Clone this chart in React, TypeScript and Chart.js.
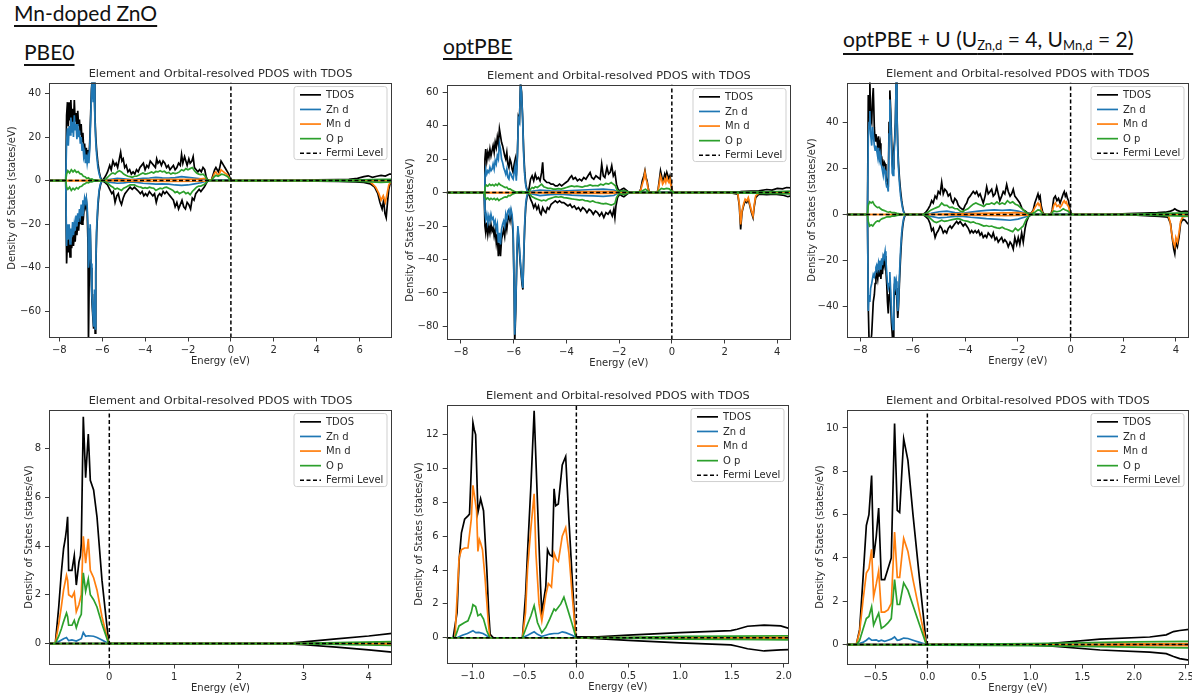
import React, { useEffect, useRef } from "react";
import { Chart, registerables } from "chart.js";

Chart.register(...registerables);

type Pair = [number, number];

const SERIES_LABELS = ["TDOS", "Zn d", "Mn d", "O p"];
const SERIES_COLORS = ["#000000", "#1f77b4", "#ff7f0e", "#2ca02c"];
const FERMI_LABEL = "Fermi Level";
const PLOT_TITLE = "Element and Orbital-resolved PDOS with TDOS";
const X_LABEL = "Energy (eV)";
const Y_LABEL = "Density of States (states/eV)";

// ---------------- PBE0, full range ----------------
const pbe0TdosUp: Pair[] = [[-8.48,0],[-7.70,0],[-7.66,30],[-7.62,36],[-7.58,25],[-7.54,36],[-7.50,28],[-7.46,37],[-7.42,26],[-7.38,33],[-7.34,24],[-7.30,37],[-7.26,27],[-7.22,31],[-7.18,23],[-7.14,32],[-7.10,25],[-7.06,28],[-7.02,21],[-6.98,26],[-6.94,18],[-6.90,22],[-6.86,14],[-6.82,17],[-6.78,11],[-6.74,15],[-6.70,10],[-6.66,14],[-6.62,10],[-6.58,18],[-6.54,30],[-6.50,42],[-6.46,47],[-6.42,38],[-6.38,46],[-6.34,30],[-6.30,20],[-6.26,14],[-6.20,8],[-6.14,4],[-6.08,1.5],[-6.02,0.3],[-5.95,0.5],[-5.85,2],[-5.75,4],[-5.65,7],[-5.58,5],[-5.50,9],[-5.42,7],[-5.35,8],[-5.28,6],[-5.20,10],[-5.14,13],[-5.08,9],[-5.02,10],[-4.95,6],[-4.88,7],[-4.80,4],[-4.72,5],[-4.64,3],[-4.56,4],[-4.48,3],[-4.40,5],[-4.32,4],[-4.24,6],[-4.16,7],[-4.08,8],[-4.00,5],[-3.92,7],[-3.84,6],[-3.76,9],[-3.68,8],[-3.60,7],[-3.52,6],[-3.46,10],[-3.40,8],[-3.32,9],[-3.24,7],[-3.16,9],[-3.08,8],[-3.00,6],[-2.92,7],[-2.84,5],[-2.76,6],[-2.68,7],[-2.60,5],[-2.52,6],[-2.44,8],[-2.36,7],[-2.30,12],[-2.24,8],[-2.16,11],[-2.10,9],[-2.04,7],[-1.96,10],[-1.90,8],[-1.82,9],[-1.76,11],[-1.70,6],[-1.62,5],[-1.54,4],[-1.46,5],[-1.38,4],[-1.30,6],[-1.22,5],[-1.16,2],[-1.10,0.5],[-1.00,0.2],[-0.90,0.5],[-0.82,3],[-0.76,5],[-0.70,6],[-0.64,5],[-0.58,4],[-0.52,6],[-0.46,9],[-0.40,8],[-0.34,7],[-0.28,6],[-0.22,5],[-0.16,4],[-0.10,3],[-0.04,1],[0.05,0.1],[1.0,0],[3.0,0.1],[4.0,0.3],[5.0,0.5],[5.5,0.6],[5.9,1],[6.2,1.8],[6.4,2.2],[6.6,1.5],[6.8,2],[7.0,2.4],[7.2,2.1],[7.4,3],[7.51,3]];
const pbe0TdosDn: Pair[] = [[-8.48,0],[-7.70,0],[-7.66,-38],[-7.62,-27],[-7.58,-33],[-7.54,-26],[-7.50,-35],[-7.46,-28],[-7.42,-31],[-7.38,-24],[-7.34,-30],[-7.30,-25],[-7.26,-28],[-7.22,-21],[-7.18,-25],[-7.14,-19],[-7.10,-23],[-7.06,-17],[-7.02,-20],[-6.98,-14],[-6.94,-20],[-6.90,-12],[-6.86,-15],[-6.82,-10],[-6.78,-12],[-6.74,-9],[-6.70,-14],[-6.66,-30],[-6.64,-75],[-6.60,-40],[-6.56,-22],[-6.52,-40],[-6.48,-55],[-6.44,-62],[-6.40,-68],[-6.36,-52],[-6.33,-70],[-6.30,-42],[-6.26,-24],[-6.20,-12],[-6.14,-5],[-6.08,-2],[-6.02,-0.3],[-5.95,-0.3],[-5.85,-1],[-5.75,-2],[-5.65,-4],[-5.55,-6],[-5.48,-5],[-5.40,-10],[-5.32,-7],[-5.25,-6],[-5.18,-9],[-5.10,-11],[-5.02,-8],[-4.94,-6],[-4.86,-5],[-4.78,-4],[-4.70,-3],[-4.60,-4],[-4.50,-3],[-4.40,-4],[-4.30,-5],[-4.22,-6],[-4.14,-5],[-4.06,-7],[-3.98,-6],[-3.90,-7],[-3.80,-5],[-3.72,-6],[-3.64,-7],[-3.56,-6],[-3.48,-10],[-3.40,-7],[-3.32,-6],[-3.24,-7],[-3.16,-5],[-3.08,-6],[-3.00,-5],[-2.92,-6],[-2.84,-7],[-2.76,-8],[-2.68,-9],[-2.60,-12],[-2.52,-10],[-2.44,-13],[-2.36,-11],[-2.28,-9],[-2.20,-12],[-2.12,-13],[-2.04,-10],[-1.96,-11],[-1.88,-13],[-1.80,-8],[-1.72,-9],[-1.64,-6],[-1.56,-5],[-1.48,-4],[-1.40,-5],[-1.32,-4],[-1.24,-3],[-1.16,-1.5],[-1.10,-0.3],[-0.90,0],[0,0],[2.0,0],[3.0,-0.1],[4.0,-0.3],[5.0,-0.4],[5.8,-0.6],[6.2,-0.8],[6.5,-1.5],[6.7,-3],[6.85,-6],[6.95,-10],[7.05,-13],[7.12,-9],[7.18,-15],[7.24,-17],[7.30,-10],[7.36,-4],[7.42,-1.5],[7.51,-1]];
const pbe0ZnUp: Pair[] = [[-8.48,0],[-7.70,0],[-7.66,18],[-7.62,24],[-7.58,16],[-7.54,25],[-7.50,21],[-7.46,29],[-7.42,22],[-7.38,27],[-7.34,20],[-7.30,30],[-7.26,23],[-7.22,26],[-7.18,19],[-7.14,26],[-7.10,20],[-7.06,23],[-7.02,17],[-6.98,20],[-6.94,14],[-6.90,17],[-6.86,11],[-6.82,13],[-6.78,8],[-6.74,12],[-6.70,8],[-6.66,11],[-6.62,8],[-6.58,15],[-6.54,27],[-6.50,40],[-6.46,47],[-6.42,36],[-6.38,46],[-6.34,28],[-6.30,18],[-6.26,12],[-6.20,6],[-6.14,3],[-6.08,1],[-6.02,0.2],[-5.9,0.2],[-5.6,0.6],[-5.3,1],[-5.0,0.8],[-4.7,0.5],[-4.4,0.7],[-4.1,1],[-3.8,1.2],[-3.5,1.5],[-3.2,1.3],[-2.9,1.2],[-2.6,1.4],[-2.3,1.8],[-2.0,1.5],[-1.7,1.2],[-1.4,0.8],[-1.15,0.3],[-1.0,0],[-0.7,0.3],[-0.45,0.4],[-0.2,0.3],[0,0],[7.51,0]];
const pbe0ZnDn: Pair[] = [[-8.48,0],[-7.70,0],[-7.66,-30],[-7.62,-20],[-7.58,-27],[-7.54,-20],[-7.50,-29],[-7.46,-22],[-7.42,-26],[-7.38,-19],[-7.34,-25],[-7.30,-20],[-7.26,-23],[-7.22,-16],[-7.18,-21],[-7.14,-15],[-7.10,-19],[-7.06,-13],[-7.02,-16],[-6.98,-11],[-6.94,-16],[-6.90,-9],[-6.86,-12],[-6.82,-8],[-6.78,-10],[-6.74,-8],[-6.70,-12],[-6.66,-22],[-6.64,-40],[-6.60,-35],[-6.56,-20],[-6.52,-38],[-6.48,-53],[-6.44,-60],[-6.40,-67],[-6.36,-50],[-6.33,-68],[-6.30,-40],[-6.26,-22],[-6.20,-10],[-6.14,-4],[-6.08,-1.5],[-6.02,-0.2],[-5.9,-0.2],[-5.6,-0.8],[-5.3,-1.2],[-5.0,-1],[-4.7,-0.6],[-4.4,-0.8],[-4.1,-1.2],[-3.8,-1.4],[-3.5,-1.6],[-3.2,-1.5],[-2.9,-1.6],[-2.6,-2],[-2.3,-2.2],[-2.0,-2],[-1.7,-1.5],[-1.4,-1],[-1.15,-0.3],[-1.0,0],[7.51,0]];
const pbe0MnUp: Pair[] = [[-8.48,0],[-5.9,0],[-5.5,0.3],[-4.5,0.4],[-3.5,0.5],[-2.5,0.6],[-1.5,0.7],[-1.2,1],[-1.1,0.3],[-0.9,0.3],[-0.82,2],[-0.76,3.5],[-0.7,4],[-0.64,3],[-0.58,2.5],[-0.52,3.5],[-0.46,5],[-0.4,4.5],[-0.34,4],[-0.28,3.5],[-0.2,3],[-0.12,2],[-0.04,0.5],[0.05,0],[7.51,0]];
const pbe0MnDn: Pair[] = [[-8.48,0],[-5.9,0],[-5,-0.3],[-3,-0.4],[-1.2,-0.3],[-1.0,0],[6.4,0],[6.6,-1.5],[6.75,-3],[6.9,-6],[7.0,-9],[7.1,-7],[7.2,-10],[7.28,-6],[7.36,-2],[7.45,-0.5],[7.51,-0.3]];
const pbe0OpUp: Pair[] = [[-8.48,0],[-7.70,0],[-7.66,3],[-7.60,4.5],[-7.52,3.5],[-7.44,5],[-7.36,4],[-7.28,4.8],[-7.20,3.8],[-7.12,4.2],[-7.04,3.2],[-6.96,3],[-6.88,2],[-6.80,1.8],[-6.72,1],[-6.64,1.3],[-6.56,0.6],[-6.48,0.8],[-6.40,0.3],[-6.30,0.2],[-6.1,0],[-5.9,0.2],[-5.8,1],[-5.7,2],[-5.6,3],[-5.5,3.5],[-5.4,3],[-5.3,4],[-5.2,4.5],[-5.1,4],[-5.0,3],[-4.9,2.5],[-4.8,2],[-4.7,1.8],[-4.6,1.5],[-4.5,2],[-4.4,2],[-4.3,2.5],[-4.2,3],[-4.1,3.5],[-4.0,3],[-3.9,3.2],[-3.8,3.5],[-3.7,4],[-3.6,3.5],[-3.5,4.2],[-3.4,4],[-3.3,4.5],[-3.2,4],[-3.1,4.3],[-3.0,3.5],[-2.9,3.8],[-2.8,3],[-2.7,3.5],[-2.6,3.2],[-2.5,3.5],[-2.4,4],[-2.3,5],[-2.2,4.5],[-2.1,5.5],[-2.0,5],[-1.9,5.5],[-1.8,6],[-1.7,4.5],[-1.6,3.5],[-1.5,3],[-1.4,2.8],[-1.3,3],[-1.2,2],[-1.12,0.5],[-1.0,0.1],[-0.9,0.3],[-0.8,1.5],[-0.7,2.5],[-0.6,2],[-0.5,2.5],[-0.45,3],[-0.35,2.8],[-0.25,2.3],[-0.15,1.8],[-0.05,0.6],[0.05,0],[3,0],[5,0.2],[6,0.4],[7,0.6],[7.51,0.6]];
const pbe0OpDn: Pair[] = [[-8.48,0],[-7.70,0],[-7.66,-3],[-7.60,-4],[-7.52,-3],[-7.44,-4.5],[-7.36,-3.5],[-7.28,-4.2],[-7.20,-3.2],[-7.12,-3.8],[-7.04,-2.8],[-6.96,-2.6],[-6.88,-1.8],[-6.80,-1.5],[-6.72,-0.8],[-6.64,-1],[-6.56,-0.5],[-6.48,-0.6],[-6.40,-0.3],[-6.30,-0.2],[-6.1,0],[-5.9,-0.2],[-5.8,-0.8],[-5.7,-1.5],[-5.6,-2.5],[-5.5,-3],[-5.4,-4],[-5.3,-3.5],[-5.2,-4],[-5.1,-4.5],[-5.0,-3.5],[-4.9,-3],[-4.8,-2.5],[-4.7,-2],[-4.6,-2],[-4.5,-2],[-4.4,-2.5],[-4.3,-2.8],[-4.2,-3],[-4.1,-3.5],[-4.0,-3.2],[-3.9,-3.5],[-3.8,-3],[-3.7,-3.3],[-3.6,-3.5],[-3.5,-4.5],[-3.4,-4],[-3.3,-3.5],[-3.2,-3.8],[-3.1,-3.2],[-3.0,-3],[-2.9,-3.5],[-2.8,-4],[-2.7,-4.5],[-2.6,-5.5],[-2.5,-5],[-2.4,-6],[-2.3,-5.5],[-2.2,-5],[-2.1,-6],[-2.0,-5.5],[-1.9,-6.5],[-1.8,-5],[-1.7,-4],[-1.6,-3],[-1.5,-2.5],[-1.4,-2.5],[-1.3,-2],[-1.2,-1.5],[-1.12,-0.5],[-1.0,0],[3,0],[5,-0.2],[6,-0.4],[7,-0.8],[7.51,-0.6]];

// ---------------- optPBE, full range ----------------
const optTdosUp: Pair[] = [[-8.54,0],[-7.12,0],[-7.09,20],[-7.06,26],[-7.02,19],[-6.98,24],[-6.94,21],[-6.90,26],[-6.86,22],[-6.82,25],[-6.78,28],[-6.74,24],[-6.70,30],[-6.66,27],[-6.62,33],[-6.58,29],[-6.54,38],[-6.50,34],[-6.46,30],[-6.42,28],[-6.38,25],[-6.34,22],[-6.30,20],[-6.26,24],[-6.22,17],[-6.18,15],[-6.14,20],[-6.10,18],[-6.06,14],[-6.02,12],[-5.98,17],[-5.94,20],[-5.90,10],[-5.86,22],[-5.82,45],[-5.78,43],[-5.74,66],[-5.70,60],[-5.66,45],[-5.62,25],[-5.58,12],[-5.54,5],[-5.50,2],[-5.46,0.5],[-5.42,2],[-5.36,8],[-5.30,10],[-5.24,7],[-5.18,11],[-5.12,8],[-5.06,9],[-5.00,7],[-4.94,12],[-4.90,18],[-4.86,8],[-4.80,7],[-4.74,6],[-4.66,6],[-4.58,5],[-4.50,5],[-4.42,4],[-4.34,4],[-4.26,5],[-4.18,4],[-4.10,5],[-4.02,6],[-3.94,7],[-3.86,9],[-3.80,10],[-3.74,8],[-3.66,9],[-3.58,7],[-3.50,8],[-3.42,7],[-3.34,9],[-3.26,8],[-3.18,10],[-3.10,12],[-3.04,9],[-2.96,8],[-2.88,10],[-2.80,9],[-2.72,8],[-2.66,17],[-2.60,10],[-2.54,9],[-2.46,15],[-2.40,11],[-2.34,12],[-2.28,16],[-2.22,10],[-2.16,12],[-2.10,5],[-2.04,2],[-1.98,1],[-1.90,2],[-1.82,2.5],[-1.74,1.5],[-1.66,0.5],[-1.55,0],[-1.25,0],[-1.18,2],[-1.12,7],[-1.06,10],[-1.02,13],[-0.98,9],[-0.94,7],[-0.90,3],[-0.86,0.5],[-0.80,0],[-0.56,0],[-0.52,2],[-0.47,8],[-0.43,13],[-0.39,10],[-0.35,7],[-0.31,8],[-0.27,11],[-0.23,9],[-0.19,12],[-0.15,10],[-0.11,8],[-0.07,10],[-0.03,6],[0.01,1],[0.1,0],[1.5,0.2],[2.2,0.4],[2.6,0.5],[3.0,0.8],[3.3,1],[3.6,1.8],[3.8,1.5],[4.0,2.5],[4.2,2.2],[4.35,3],[4.52,2.8]];
const optTdosDn: Pair[] = [[-8.54,0],[-7.12,0],[-7.09,-20],[-7.06,-24],[-7.02,-18],[-6.98,-25],[-6.94,-20],[-6.90,-24],[-6.86,-19],[-6.82,-23],[-6.78,-21],[-6.74,-26],[-6.70,-22],[-6.66,-30],[-6.62,-25],[-6.58,-38],[-6.54,-30],[-6.50,-38],[-6.46,-28],[-6.42,-25],[-6.38,-22],[-6.34,-26],[-6.30,-18],[-6.26,-22],[-6.22,-16],[-6.18,-14],[-6.14,-17],[-6.10,-12],[-6.06,-16],[-6.02,-25],[-5.98,-60],[-5.96,-90],[-5.92,-70],[-5.88,-40],[-5.84,-22],[-5.80,-30],[-5.76,-40],[-5.72,-48],[-5.68,-55],[-5.65,-58],[-5.62,-40],[-5.58,-20],[-5.54,-8],[-5.50,-3],[-5.46,-0.5],[-5.42,-1],[-5.36,-4],[-5.30,-6],[-5.24,-9],[-5.18,-7],[-5.12,-10],[-5.06,-8],[-5.00,-12],[-4.96,-13],[-4.90,-9],[-4.84,-11],[-4.78,-12],[-4.72,-9],[-4.66,-10],[-4.58,-7],[-4.50,-6],[-4.42,-5],[-4.34,-6],[-4.26,-5],[-4.18,-6],[-4.10,-6],[-4.02,-7],[-3.94,-8],[-3.86,-7],[-3.78,-9],[-3.70,-8],[-3.62,-10],[-3.54,-9],[-3.46,-11],[-3.38,-9],[-3.30,-10],[-3.22,-12],[-3.14,-10],[-3.06,-11],[-2.98,-13],[-2.90,-11],[-2.82,-12],[-2.74,-14],[-2.66,-12],[-2.58,-15],[-2.50,-12],[-2.42,-13],[-2.34,-11],[-2.26,-14],[-2.20,-10],[-2.16,-15],[-2.12,-8],[-2.06,-3],[-1.98,-1],[-1.90,-2],[-1.82,-2.5],[-1.74,-1.5],[-1.66,-0.5],[-1.55,0],[2.0,0],[2.3,-0.4],[2.5,-1],[2.56,-8],[2.61,-22],[2.66,-12],[2.72,-8],[2.78,-5],[2.84,-6],[2.90,-4],[2.96,-8],[3.02,-12],[3.08,-15],[3.12,-9],[3.18,-3],[3.3,-1],[3.6,-1.2],[3.9,-1],[4.2,-1.5],[4.4,-2.5],[4.52,-2]];
const optZnUp: Pair[] = [[-8.54,0],[-7.12,0],[-7.09,10],[-7.06,14],[-7.02,11],[-6.98,13],[-6.94,12],[-6.90,15],[-6.86,13],[-6.82,14],[-6.78,17],[-6.74,14],[-6.70,19],[-6.66,17],[-6.62,22],[-6.58,20],[-6.54,29],[-6.50,26],[-6.46,20],[-6.42,18],[-6.38,15],[-6.34,13],[-6.30,11],[-6.26,14],[-6.22,9],[-6.18,8],[-6.14,12],[-6.10,11],[-6.06,9],[-6.02,8],[-5.98,12],[-5.94,16],[-5.90,7],[-5.86,20],[-5.82,44],[-5.78,42],[-5.74,65],[-5.70,59],[-5.66,44],[-5.62,22],[-5.58,10],[-5.54,4],[-5.50,1.5],[-5.46,0.3],[-5.4,0.5],[-5.0,1.5],[-4.6,1],[-4.2,0.8],[-3.8,1.2],[-3.4,1.5],[-3.0,1.8],[-2.6,2],[-2.2,1.5],[-2.05,0.3],[-1.9,0.5],[-1.7,0.3],[-1.55,0],[-1.1,0.4],[-0.95,0.2],[-0.8,0],[-0.4,0.3],[-0.1,0.3],[0.05,0],[4.52,0]];
const optZnDn: Pair[] = [[-8.54,0],[-7.12,0],[-7.09,-12],[-7.06,-16],[-7.02,-13],[-6.98,-18],[-6.94,-14],[-6.90,-17],[-6.86,-13],[-6.82,-16],[-6.78,-15],[-6.74,-19],[-6.70,-17],[-6.66,-22],[-6.62,-19],[-6.58,-30],[-6.54,-24],[-6.50,-31],[-6.46,-22],[-6.42,-19],[-6.38,-17],[-6.34,-20],[-6.30,-13],[-6.26,-16],[-6.22,-11],[-6.18,-10],[-6.14,-14],[-6.10,-10],[-6.06,-13],[-6.02,-22],[-5.98,-58],[-5.96,-85],[-5.92,-68],[-5.88,-38],[-5.84,-20],[-5.80,-28],[-5.76,-38],[-5.72,-46],[-5.68,-53],[-5.65,-57],[-5.62,-38],[-5.58,-18],[-5.54,-6],[-5.50,-2],[-5.46,-0.3],[-5.4,-0.5],[-5.0,-1.8],[-4.6,-1.2],[-4.2,-1],[-3.8,-1.5],[-3.4,-1.8],[-3.0,-2],[-2.6,-2.3],[-2.2,-1.8],[-2.05,-0.3],[-1.9,-0.5],[-1.7,-0.3],[-1.55,0],[4.52,0]];
const optMnUp: Pair[] = [[-8.54,0],[-5.4,0],[-4.5,0.3],[-3,0.5],[-2.2,0.6],[-2.05,0.1],[-1.25,0],[-1.18,1.5],[-1.12,5],[-1.06,8],[-1.02,12],[-0.98,8],[-0.94,6],[-0.90,2],[-0.86,0.3],[-0.80,0],[-0.56,0],[-0.52,1.5],[-0.47,6],[-0.43,10],[-0.39,8],[-0.35,5],[-0.31,6],[-0.27,8],[-0.23,6],[-0.19,9],[-0.15,7],[-0.11,6],[-0.07,8],[-0.03,4],[0.01,0.5],[0.1,0],[4.52,0]];
const optMnDn: Pair[] = [[-8.54,0],[-5.4,0],[-4.5,-0.3],[-3,-0.5],[-2.2,-0.5],[-2.05,0],[2.3,0],[2.5,-0.5],[2.56,-7],[2.61,-19],[2.66,-11],[2.72,-7],[2.78,-4],[2.84,-5],[2.90,-3],[2.96,-7],[3.02,-11],[3.08,-14],[3.12,-8],[3.18,-2],[3.3,-0.3],[4.52,-0.2]];
const optOpUp: Pair[] = [[-8.54,0],[-7.12,0],[-7.09,3],[-7.04,4.5],[-6.98,3.8],[-6.92,5],[-6.86,4.2],[-6.80,4.8],[-6.74,4],[-6.68,5],[-6.62,4.2],[-6.56,5.5],[-6.50,4.5],[-6.44,4],[-6.38,3.5],[-6.32,3],[-6.26,3.2],[-6.20,2],[-6.14,2.2],[-6.08,1.5],[-6.02,1],[-5.96,0.5],[-5.9,0.3],[-5.7,0.5],[-5.5,0.2],[-5.42,0.5],[-5.36,2],[-5.30,3],[-5.24,2.5],[-5.18,3.5],[-5.10,3],[-5.02,4],[-4.94,5],[-4.86,3.5],[-4.78,3],[-4.70,2.5],[-4.60,2.5],[-4.50,2],[-4.40,2],[-4.30,2.3],[-4.20,2],[-4.10,2.5],[-4.00,3],[-3.90,3.5],[-3.80,4],[-3.70,3.5],[-3.60,3.8],[-3.50,3.5],[-3.40,3.2],[-3.30,3.8],[-3.20,4],[-3.10,4.5],[-3.00,4],[-2.90,4.2],[-2.80,4],[-2.70,5],[-2.60,4.5],[-2.50,5.5],[-2.40,5],[-2.30,6],[-2.22,5],[-2.14,4],[-2.08,1.5],[-2.00,0.5],[-1.90,1],[-1.80,1.2],[-1.70,0.6],[-1.55,0],[-1.18,0.5],[-1.06,1.5],[-1.00,2],[-0.94,1.2],[-0.86,0.2],[-0.56,0],[-0.47,1.5],[-0.40,2.5],[-0.30,2],[-0.20,2.5],[-0.10,2.2],[-0.02,1],[0.1,0],[2,0.1],[3,0.3],[4,0.6],[4.52,0.8]];
const optOpDn: Pair[] = [[-8.54,0],[-7.12,0],[-7.09,-2.5],[-7.04,-4],[-6.98,-3.2],[-6.92,-4.3],[-6.86,-3.5],[-6.80,-4.2],[-6.74,-3.5],[-6.68,-4.4],[-6.62,-3.6],[-6.56,-4.8],[-6.50,-4],[-6.44,-3.6],[-6.38,-3],[-6.32,-2.6],[-6.26,-2.8],[-6.20,-1.8],[-6.14,-2],[-6.08,-1.3],[-6.02,-0.8],[-5.96,-0.4],[-5.9,-0.2],[-5.5,-0.1],[-5.42,-0.5],[-5.36,-1.5],[-5.30,-2.5],[-5.24,-3],[-5.18,-3.5],[-5.10,-4],[-5.02,-4.5],[-4.94,-5],[-4.86,-4.5],[-4.78,-5],[-4.70,-4],[-4.60,-3.5],[-4.50,-3],[-4.40,-2.5],[-4.30,-2.8],[-4.20,-2.5],[-4.10,-3],[-4.00,-3.2],[-3.90,-3.5],[-3.80,-3.8],[-3.70,-4],[-3.60,-4.2],[-3.50,-4.5],[-3.40,-4.2],[-3.30,-4.8],[-3.20,-5],[-3.10,-5.5],[-3.00,-5],[-2.90,-5.8],[-2.80,-6],[-2.70,-6.5],[-2.60,-6.8],[-2.50,-6.5],[-2.40,-7],[-2.30,-7.5],[-2.22,-7],[-2.16,-6.5],[-2.10,-3],[-2.00,-0.5],[-1.90,-1],[-1.80,-1.2],[-1.70,-0.6],[-1.55,0],[2,-0.1],[3,-0.3],[4,-0.6],[4.52,-0.8]];

// ---------------- optPBE + U, full range ----------------
const uTdosUp: Pair[] = [[-8.51,0],[-7.72,0],[-7.69,52],[-7.66,45],[-7.63,58],[-7.60,42],[-7.56,40],[-7.53,50],[-7.50,55],[-7.46,38],[-7.43,32],[-7.40,35],[-7.37,33],[-7.33,30],[-7.30,34],[-7.27,29],[-7.24,31],[-7.21,26],[-7.18,25],[-7.15,22],[-7.12,21],[-7.09,23],[-7.05,22],[-7.02,17],[-6.99,15],[-6.96,14],[-6.93,12],[-6.90,40],[-6.87,54],[-6.84,46],[-6.81,35],[-6.78,22],[-6.75,20],[-6.72,28],[-6.69,32],[-6.66,40],[-6.63,58],[-6.60,45],[-6.57,30],[-6.54,22],[-6.50,15],[-6.46,10],[-6.42,6],[-6.38,3],[-6.34,1],[-6.29,0.2],[-5.60,0],[-5.50,1],[-5.41,2.5],[-5.34,4],[-5.28,6],[-5.22,5],[-5.15,8],[-5.09,7],[-5.03,10],[-4.96,9],[-4.90,14],[-4.84,9],[-4.78,11],[-4.71,10],[-4.65,8],[-4.58,9],[-4.52,6],[-4.46,5],[-4.40,7],[-4.33,6],[-4.27,4],[-4.20,3],[-4.14,2.5],[-4.08,2],[-4.01,4],[-3.95,5],[-3.89,7],[-3.82,8],[-3.76,9],[-3.70,10],[-3.63,9],[-3.57,10],[-3.50,8],[-3.44,9],[-3.38,7],[-3.32,5],[-3.25,8],[-3.19,12],[-3.13,9],[-3.06,10],[-3.00,11],[-2.94,8],[-2.87,9],[-2.81,12],[-2.75,9],[-2.69,6],[-2.62,8],[-2.56,10],[-2.50,9],[-2.43,13],[-2.37,10],[-2.30,8],[-2.24,9],[-2.18,11],[-2.12,8],[-2.05,7],[-1.99,6],[-1.93,5],[-1.86,3],[-1.80,2],[-1.73,1.5],[-1.67,1],[-1.60,0.5],[-1.50,0.5],[-1.42,2],[-1.36,5],[-1.30,7],[-1.24,9],[-1.20,7],[-1.16,8],[-1.12,4],[-1.06,1],[-1.00,0],[-0.75,0],[-0.70,2],[-0.64,7],[-0.58,8],[-0.52,6],[-0.46,7],[-0.40,5],[-0.34,7],[-0.28,9],[-0.24,10],[-0.20,8],[-0.16,9],[-0.12,7],[-0.08,6],[-0.04,3],[0.02,0.5],[0.1,0],[1.5,0.1],[2.2,0.4],[2.8,0.6],[3.3,0.8],[3.6,1],[3.8,1.5],[3.9,2],[3.96,2.5],[4.05,1.8],[4.2,1.2],[4.35,1.5],[4.5,1.3]];
const uTdosDn: Pair[] = [[-8.51,0],[-7.72,0],[-7.69,-40],[-7.66,-55],[-7.63,-58],[-7.60,-56],[-7.56,-52],[-7.53,-45],[-7.50,-38],[-7.46,-35],[-7.43,-30],[-7.40,-27],[-7.37,-25],[-7.33,-28],[-7.30,-24],[-7.27,-27],[-7.24,-23],[-7.21,-28],[-7.18,-22],[-7.15,-26],[-7.12,-20],[-7.09,-22],[-7.05,-18],[-7.02,-24],[-6.99,-30],[-6.96,-38],[-6.93,-43],[-6.90,-35],[-6.87,-28],[-6.84,-38],[-6.81,-47],[-6.78,-52],[-6.75,-58],[-6.72,-40],[-6.69,-30],[-6.66,-35],[-6.63,-32],[-6.60,-38],[-6.57,-45],[-6.54,-40],[-6.50,-28],[-6.46,-18],[-6.42,-10],[-6.38,-5],[-6.34,-2],[-6.29,-0.3],[-5.60,0],[-5.50,-1],[-5.41,-2],[-5.34,-4],[-5.28,-7],[-5.22,-6],[-5.15,-10],[-5.09,-8],[-5.03,-7],[-4.96,-5],[-4.90,-6],[-4.84,-8],[-4.78,-7],[-4.71,-8],[-4.65,-6],[-4.58,-5],[-4.52,-6],[-4.46,-5],[-4.40,-4],[-4.33,-3],[-4.27,-4],[-4.20,-3],[-4.14,-4],[-4.08,-5],[-4.01,-4],[-3.95,-5],[-3.89,-6],[-3.82,-8],[-3.76,-7],[-3.70,-8],[-3.63,-7],[-3.57,-8],[-3.50,-7],[-3.44,-9],[-3.38,-8],[-3.32,-10],[-3.25,-9],[-3.19,-10],[-3.13,-8],[-3.06,-9],[-3.00,-10],[-2.94,-8],[-2.87,-11],[-2.81,-10],[-2.75,-12],[-2.69,-11],[-2.62,-10],[-2.56,-12],[-2.50,-11],[-2.43,-12],[-2.37,-14],[-2.30,-12],[-2.24,-13],[-2.18,-15],[-2.12,-10],[-2.05,-13],[-1.99,-10],[-1.93,-13],[-1.86,-8],[-1.80,-12],[-1.73,-6],[-1.67,-3],[-1.60,-1],[-1.50,0],[2.0,0],[2.5,-0.3],[3.0,-0.6],[3.4,-0.8],[3.7,-1.2],[3.80,-4],[3.86,-10],[3.92,-15],[3.96,-17],[4.00,-12],[4.06,-14],[4.12,-10],[4.18,-4],[4.26,-2],[4.35,-2.5],[4.45,-4],[4.5,-4]];
const uZnUp: Pair[] = [[-8.51,0],[-7.72,0],[-7.69,33],[-7.66,40],[-7.63,45],[-7.60,35],[-7.56,30],[-7.53,38],[-7.50,35],[-7.46,30],[-7.43,28],[-7.40,30],[-7.37,28],[-7.33,25],[-7.30,29],[-7.27,24],[-7.24,26],[-7.21,22],[-7.18,21],[-7.15,19],[-7.12,17],[-7.09,20],[-7.05,19],[-7.02,14],[-6.99,12],[-6.96,12],[-6.93,10],[-6.90,35],[-6.87,50],[-6.84,42],[-6.81,30],[-6.78,18],[-6.75,17],[-6.72,25],[-6.69,30],[-6.66,38],[-6.63,60],[-6.60,44],[-6.57,28],[-6.54,20],[-6.50,13],[-6.46,8],[-6.42,5],[-6.38,2.5],[-6.34,0.8],[-6.29,0.1],[-5.6,0],[-5.3,0.5],[-5.0,1.2],[-4.7,1.5],[-4.4,0.8],[-4.1,0.5],[-3.8,1],[-3.5,1.5],[-3.2,1.8],[-2.9,2],[-2.6,1.8],[-2.3,2],[-2.0,1.5],[-1.7,0.5],[-1.5,0],[-1.24,0.3],[-1.0,0],[-0.6,0.2],[-0.25,0.3],[0.05,0],[4.5,0]];
const uZnDn: Pair[] = [[-8.51,0],[-7.72,0],[-7.69,-42],[-7.66,-35],[-7.63,-38],[-7.60,-32],[-7.56,-30],[-7.53,-28],[-7.50,-26],[-7.46,-27],[-7.43,-25],[-7.40,-23],[-7.37,-22],[-7.33,-24],[-7.30,-21],[-7.27,-23],[-7.24,-20],[-7.21,-24],[-7.18,-19],[-7.15,-22],[-7.12,-18],[-7.09,-19],[-7.05,-16],[-7.02,-20],[-6.99,-25],[-6.96,-30],[-6.93,-32],[-6.90,-30],[-6.87,-25],[-6.84,-33],[-6.81,-42],[-6.78,-47],[-6.75,-50],[-6.72,-36],[-6.69,-27],[-6.66,-31],[-6.63,-29],[-6.60,-35],[-6.57,-42],[-6.54,-38],[-6.50,-25],[-6.46,-15],[-6.42,-8],[-6.38,-4],[-6.34,-1.5],[-6.29,-0.2],[-5.6,0],[-5.3,-0.8],[-5.0,-1.5],[-4.7,-1.2],[-4.4,-0.8],[-4.1,-0.8],[-3.8,-1.2],[-3.5,-1.5],[-3.2,-1.8],[-2.9,-2],[-2.6,-2.2],[-2.3,-2.5],[-2.0,-2],[-1.7,-1],[-1.5,0],[4.5,0]];
const uMnUp: Pair[] = [[-8.51,0],[-5.6,0],[-4.5,0.3],[-3.0,0.6],[-2.0,0.8],[-1.6,0.3],[-1.50,0.3],[-1.42,1.5],[-1.36,3],[-1.30,4],[-1.24,5],[-1.20,4],[-1.16,4.5],[-1.12,2],[-1.06,0.5],[-1.00,0],[-0.75,0],[-0.70,1],[-0.64,4],[-0.58,5],[-0.52,3.5],[-0.46,4],[-0.40,3],[-0.34,4],[-0.28,5.5],[-0.24,6],[-0.20,5],[-0.16,5.5],[-0.12,4],[-0.08,3.5],[-0.04,1.5],[0.02,0.2],[0.1,0],[4.5,0]];
const uMnDn: Pair[] = [[-8.51,0],[-5.6,0],[-4.0,-0.3],[-2.5,-0.5],[-1.6,-0.3],[-1.5,0],[3.7,0],[3.78,-3],[3.84,-8],[3.90,-12],[3.96,-14],[4.00,-10],[4.06,-12],[4.12,-8],[4.18,-3],[4.26,-1],[4.5,-0.5]];
const uOpUp: Pair[] = [[-8.51,0],[-7.72,0],[-7.69,4],[-7.64,5.5],[-7.58,5],[-7.52,5.5],[-7.46,4.2],[-7.40,3.5],[-7.34,3],[-7.28,3.2],[-7.22,2.5],[-7.16,2],[-7.10,1.8],[-7.04,1.5],[-6.98,1.2],[-6.92,1],[-6.86,1.2],[-6.80,0.8],[-6.70,0.8],[-6.60,0.5],[-6.45,0.2],[-6.3,0],[-5.60,0],[-5.50,0.5],[-5.40,1.2],[-5.30,2],[-5.20,2.5],[-5.10,3],[-5.00,3.5],[-4.90,5],[-4.80,4],[-4.70,4],[-4.60,3],[-4.50,3.2],[-4.40,2.5],[-4.30,2.5],[-4.20,1.5],[-4.10,1.2],[-4.00,2],[-3.90,2.5],[-3.80,3.5],[-3.70,4.5],[-3.60,5],[-3.50,4.5],[-3.40,4],[-3.30,3.5],[-3.20,4.5],[-3.10,4.5],[-3.00,5],[-2.90,4.5],[-2.80,5.5],[-2.70,4.5],[-2.60,5],[-2.50,4.5],[-2.40,6],[-2.30,5],[-2.20,5.5],[-2.10,4.5],[-2.00,4],[-1.90,3],[-1.80,2],[-1.70,1],[-1.60,0.3],[-1.50,0.2],[-1.36,1],[-1.24,2],[-1.16,1.8],[-1.06,0.3],[-1.0,0],[-0.75,0],[-0.64,1.5],[-0.52,1.2],[-0.40,1.5],[-0.28,2.5],[-0.20,2],[-0.10,1.5],[-0.02,0.5],[0.1,0],[2.0,0.1],[3.0,0.3],[4.0,0.6],[4.5,0.7]];
const uOpDn: Pair[] = [[-8.51,0],[-7.72,0],[-7.69,-3],[-7.64,-5],[-7.58,-4.5],[-7.52,-5],[-7.46,-4],[-7.40,-3.2],[-7.34,-2.8],[-7.28,-3],[-7.22,-2.2],[-7.16,-1.8],[-7.10,-1.6],[-7.04,-1.3],[-6.98,-1],[-6.92,-0.9],[-6.86,-1],[-6.80,-0.7],[-6.70,-0.7],[-6.60,-0.4],[-6.45,-0.2],[-6.3,0],[-5.60,0],[-5.50,-0.5],[-5.40,-1],[-5.30,-2],[-5.20,-3],[-5.10,-3.5],[-5.00,-3],[-4.90,-2.5],[-4.80,-3],[-4.70,-2.8],[-4.60,-2.5],[-4.50,-2.2],[-4.40,-2],[-4.30,-1.8],[-4.20,-2],[-4.10,-2.5],[-4.00,-2.8],[-3.90,-3],[-3.80,-3.5],[-3.70,-3.2],[-3.60,-3.8],[-3.50,-4],[-3.40,-4.5],[-3.30,-5],[-3.20,-4.8],[-3.10,-5.2],[-3.00,-5],[-2.90,-5.5],[-2.80,-5.8],[-2.70,-6],[-2.60,-5.5],[-2.50,-6.2],[-2.40,-6.5],[-2.30,-7],[-2.20,-7.5],[-2.10,-6],[-2.00,-7],[-1.90,-6],[-1.80,-5],[-1.70,-2.5],[-1.60,-0.8],[-1.50,0],[2.0,-0.1],[3.0,-0.3],[4.0,-0.6],[4.5,-0.8]];

// ---------------- PBE0, zoom near Fermi level ----------------
const bTdosUp: Pair[] = [[-0.93,0],[-0.833,0],[-0.78,1.5],[-0.74,2.9],[-0.705,3.9],[-0.679,4.3],[-0.660,4.7],[-0.643,5.2],[-0.627,3.0],[-0.600,3.0],[-0.576,3.0],[-0.540,3.6],[-0.509,2.4],[-0.468,3.35],[-0.445,3.6],[-0.432,4.1],[-0.401,9.3],[-0.365,6.8],[-0.324,8.6],[-0.293,6.7],[-0.242,6.3],[-0.190,5.2],[-0.113,2.6],[-0.01,0.05],[0,0],[2.7,0],[3.0,0.07],[3.5,0.19],[4.0,0.31],[4.36,0.42]];
const bTdosDn: Pair[] = [[-0.93,0],[2.7,0],[3.0,-0.05],[3.5,-0.15],[4.0,-0.26],[4.36,-0.35]];
const bZnUp: Pair[] = [[-0.93,0],[-0.833,0],[-0.705,0.2],[-0.660,0.25],[-0.627,0.12],[-0.576,0.15],[-0.509,0.1],[-0.432,0.2],[-0.401,0.45],[-0.365,0.3],[-0.324,0.32],[-0.242,0.3],[-0.190,0.25],[-0.113,0.15],[-0.01,0],[4.36,0]];
const bZnDn: Pair[] = [[-0.93,0],[4.36,0]];
const bMnUp: Pair[] = [[-0.93,0],[-0.833,0],[-0.78,0.8],[-0.74,1.5],[-0.705,2.2],[-0.660,2.8],[-0.643,2.6],[-0.627,2.0],[-0.576,1.9],[-0.540,2.1],[-0.509,1.3],[-0.468,1.6],[-0.432,2.0],[-0.401,4.4],[-0.365,3.3],[-0.324,4.3],[-0.293,3.0],[-0.242,2.7],[-0.190,2.2],[-0.113,1.1],[-0.01,0],[3.0,0],[4.36,0.02]];
const bMnDn: Pair[] = [[-0.93,0],[3.0,0],[4.36,-0.02]];
const bOpUp: Pair[] = [[-0.93,0],[-0.833,0],[-0.78,0.3],[-0.74,0.6],[-0.705,0.9],[-0.660,1.25],[-0.643,1.1],[-0.627,0.75],[-0.576,0.75],[-0.540,0.95],[-0.509,0.65],[-0.468,1.0],[-0.432,1.2],[-0.401,2.9],[-0.365,2.15],[-0.324,2.65],[-0.293,2.0],[-0.242,1.8],[-0.190,1.5],[-0.113,0.8],[-0.01,0],[2.7,0],[3.5,0.04],[4.36,0.08]];
const bOpDn: Pair[] = [[-0.93,0],[2.7,0],[3.5,-0.04],[4.36,-0.08]];

// ---------------- optPBE, zoom near Fermi level ----------------
const mTdosUp: Pair[] = [[-1.25,0],[-1.188,0],[-1.15,1.5],[-1.131,4.5],[-1.108,6.2],[-1.077,7.0],[-1.045,7.2],[-1.030,7.3],[-1.013,10],[-0.997,12.7],[-0.985,12.3],[-0.971,12.0],[-0.949,7.4],[-0.935,7.8],[-0.923,8.2],[-0.895,7.5],[-0.863,4],[-0.845,1.5],[-0.831,0.2],[-0.80,0],[-0.52,0],[-0.49,2.5],[-0.471,5],[-0.438,9],[-0.407,13.4],[-0.375,8],[-0.345,3],[-0.333,1.5],[-0.295,3],[-0.278,5.2],[-0.257,4.9],[-0.232,4.8],[-0.215,8.8],[-0.199,7.8],[-0.174,7.9],[-0.136,10.2],[-0.103,10.7],[-0.072,7],[-0.040,3.5],[-0.008,0.2],[0.0,0.05],[0.2,0.05],[0.5,0.15],[1.0,0.3],[1.49,0.42],[1.55,0.5],[1.65,0.68],[1.81,0.75],[1.97,0.7],[2.05,0.55]];
const mTdosDn: Pair[] = [[-1.25,0],[0.0,0],[0.2,-0.05],[0.5,-0.15],[1.0,-0.3],[1.49,-0.42],[1.55,-0.5],[1.65,-0.65],[1.81,-0.78],[1.97,-0.72],[2.05,-0.7]];
const mZnUp: Pair[] = [[-1.25,0],[-1.15,0],[-1.10,0.15],[-1.05,0.25],[-0.997,0.42],[-0.97,0.3],[-0.94,0.32],[-0.90,0.25],[-0.86,0.1],[-0.83,0],[-0.52,0],[-0.47,0.15],[-0.407,0.35],[-0.375,0.2],[-0.333,0.08],[-0.295,0.15],[-0.257,0.22],[-0.215,0.25],[-0.174,0.25],[-0.136,0.35],[-0.103,0.3],[-0.04,0.15],[0,0],[2.05,0]];
const mZnDn: Pair[] = [[-1.25,0],[2.05,0]];
const mMnUp: Pair[] = [[-1.25,0],[-1.17,0],[-1.131,4.7],[-1.108,5.2],[-1.077,5.3],[-1.045,5.3],[-1.013,7],[-0.997,9.0],[-0.985,8.5],[-0.962,7.5],[-0.949,5.1],[-0.935,5.8],[-0.923,5.6],[-0.905,5.2],[-0.880,3.5],[-0.850,1],[-0.835,0],[-0.52,0],[-0.49,1.5],[-0.471,4],[-0.438,6.5],[-0.407,8.5],[-0.390,5],[-0.360,2],[-0.333,1],[-0.295,2.5],[-0.270,3.2],[-0.240,3.0],[-0.215,5],[-0.190,4.6],[-0.174,4.5],[-0.136,6],[-0.103,6.5],[-0.072,5],[-0.040,2.5],[-0.008,0.3],[0,0],[1.0,0.02],[2.05,0.04]];
const mMnDn: Pair[] = [[-1.25,0],[1.0,-0.02],[2.05,-0.05]];
const mOpUp: Pair[] = [[-1.25,0],[-1.17,0],[-1.131,0.7],[-1.077,0.9],[-1.045,1.0],[-1.013,1.5],[-0.997,1.95],[-0.971,1.85],[-0.949,1.3],[-0.935,1.35],[-0.923,1.4],[-0.895,1.1],[-0.863,0.4],[-0.835,0],[-0.52,0],[-0.471,0.8],[-0.438,1.3],[-0.407,1.9],[-0.375,0.9],[-0.333,0.3],[-0.295,0.6],[-0.257,1.1],[-0.215,1.7],[-0.199,1.6],[-0.150,2.0],[-0.120,2.4],[-0.090,1.8],[-0.040,0.8],[-0.008,0.1],[0,0],[0.5,0.03],[1.0,0.08],[1.5,0.1],[2.05,0.12]];
const mOpDn: Pair[] = [[-1.25,0],[0,0],[0.5,-0.03],[1.0,-0.08],[1.5,-0.1],[2.05,-0.12]];

// ---------------- optPBE + U, zoom near Fermi level ----------------
const rTdosUp: Pair[] = [[-0.78,0],[-0.687,0],[-0.655,0.7],[-0.623,3],[-0.590,5.5],[-0.565,6],[-0.539,7.8],[-0.520,4],[-0.494,5],[-0.471,6.3],[-0.445,3],[-0.413,3],[-0.381,3.5],[-0.349,4],[-0.317,10.2],[-0.291,6.2],[-0.268,6.1],[-0.229,9.5],[-0.188,8.5],[-0.139,6],[-0.075,3],[-0.010,0],[0.5,0],[1.0,0.03],[1.18,0.05],[1.67,0.25],[2.15,0.35],[2.31,0.45],[2.38,0.6],[2.44,0.65],[2.53,0.7]];
const rTdosDn: Pair[] = [[-0.78,0],[0.5,0],[1.0,-0.03],[1.18,-0.06],[1.67,-0.25],[2.15,-0.35],[2.31,-0.42],[2.38,-0.55],[2.44,-0.65],[2.53,-0.72]];
const rZnUp: Pair[] = [[-0.78,0],[-0.687,0],[-0.623,0.1],[-0.590,0.2],[-0.565,0.3],[-0.539,0.2],[-0.494,0.22],[-0.471,0.15],[-0.445,0.2],[-0.413,0.15],[-0.381,0.2],[-0.349,0.25],[-0.317,0.35],[-0.291,0.2],[-0.268,0.22],[-0.229,0.3],[-0.188,0.28],[-0.139,0.2],[-0.075,0.1],[-0.010,0],[2.53,0]];
const rZnDn: Pair[] = [[-0.78,0],[2.53,0]];
const rMnUp: Pair[] = [[-0.78,0],[-0.687,0],[-0.655,0.6],[-0.623,2.0],[-0.590,3.3],[-0.565,3.5],[-0.539,4.4],[-0.520,2.2],[-0.494,2.8],[-0.471,3.4],[-0.445,1.5],[-0.413,1.5],[-0.381,1.6],[-0.349,1.9],[-0.317,5.2],[-0.291,3.1],[-0.268,3.1],[-0.229,4.9],[-0.188,4.3],[-0.139,3.0],[-0.075,1.5],[-0.010,0],[1.0,0],[2.53,0.05]];
const rMnDn: Pair[] = [[-0.78,0],[1.0,0],[2.53,-0.05]];
const rOpUp: Pair[] = [[-0.78,0],[-0.687,0],[-0.655,0.2],[-0.623,0.7],[-0.590,1.2],[-0.565,1.3],[-0.539,1.75],[-0.520,0.9],[-0.494,1.2],[-0.471,1.45],[-0.445,0.75],[-0.413,0.85],[-0.381,1.0],[-0.349,1.2],[-0.317,3.0],[-0.291,1.85],[-0.268,1.85],[-0.229,2.85],[-0.188,2.5],[-0.139,1.8],[-0.075,0.9],[-0.010,0],[1.0,0.05],[2.0,0.12],[2.53,0.15]];
const rOpDn: Pair[] = [[-0.78,0],[1.0,-0.05],[2.0,-0.12],[2.53,-0.15]];

// ---------------- axes: ranges and ticks ----------------
const pbe0FullX = [-8.48, 7.51];
const pbe0FullY = [-72, 45];
const optFullX = [-8.54, 4.52];
const optFullY = [-87.8, 64.5];
const uFullX = [-8.51, 4.5];
const uFullY = [-53.5, 57.4];
const pbe0ZoomX = [-0.93, 4.36];
const pbe0ZoomY = [-0.86, 9.6];
const optZoomX = [-1.25, 2.05];
const optZoomY = [-1.52, 13.77];
const uZoomX = [-0.78, 2.53];
const uZoomY = [-0.92, 10.85];

const pbe0FullXTicks = [-8, -6, -4, -2, 0, 2, 4, 6];
const pbe0FullYTicks = [-60, -40, -20, 0, 20, 40];
const optFullXTicks = [-8, -6, -4, -2, 0, 2, 4];
const optFullYTicks = [-80, -60, -40, -20, 0, 20, 40, 60];
const uFullXTicks = [-8, -6, -4, -2, 0, 2, 4];
const uFullYTicks = [-40, -20, 0, 20, 40];
const pbe0ZoomXTicks = [0, 1, 2, 3, 4];
const pbe0ZoomYTicks = [0, 2, 4, 6, 8];
const optZoomXTicks = [-1.0, -0.5, 0.0, 0.5, 1.0, 1.5, 2.0];
const optZoomYTicks = [0, 2, 4, 6, 8, 10, 12];
const uZoomXTicks = [-0.5, 0.0, 0.5, 1.0, 1.5, 2.0, 2.5];
const uZoomYTicks = [0, 2, 4, 6, 8, 10];

// ---------------- panel definitions ----------------
type PanelDef = {
  key: string;
  series: [Pair[], Pair[]][];
  xRange: number[];
  yRange: number[];
  xTicks: number[];
  yTicks: number[];
  xDecimals: number;
};

const panels: PanelDef[] = [
  { key: "pbe0-full", series: [[pbe0TdosUp, pbe0TdosDn], [pbe0ZnUp, pbe0ZnDn], [pbe0MnUp, pbe0MnDn], [pbe0OpUp, pbe0OpDn]], xRange: pbe0FullX, yRange: pbe0FullY, xTicks: pbe0FullXTicks, yTicks: pbe0FullYTicks, xDecimals: 0 },
  { key: "opt-full", series: [[optTdosUp, optTdosDn], [optZnUp, optZnDn], [optMnUp, optMnDn], [optOpUp, optOpDn]], xRange: optFullX, yRange: optFullY, xTicks: optFullXTicks, yTicks: optFullYTicks, xDecimals: 0 },
  { key: "u-full", series: [[uTdosUp, uTdosDn], [uZnUp, uZnDn], [uMnUp, uMnDn], [uOpUp, uOpDn]], xRange: uFullX, yRange: uFullY, xTicks: uFullXTicks, yTicks: uFullYTicks, xDecimals: 0 },
  { key: "pbe0-zoom", series: [[bTdosUp, bTdosDn], [bZnUp, bZnDn], [bMnUp, bMnDn], [bOpUp, bOpDn]], xRange: pbe0ZoomX, yRange: pbe0ZoomY, xTicks: pbe0ZoomXTicks, yTicks: pbe0ZoomYTicks, xDecimals: 0 },
  { key: "opt-zoom", series: [[mTdosUp, mTdosDn], [mZnUp, mZnDn], [mMnUp, mMnDn], [mOpUp, mOpDn]], xRange: optZoomX, yRange: optZoomY, xTicks: optZoomXTicks, yTicks: optZoomYTicks, xDecimals: 1 },
  { key: "u-zoom", series: [[rTdosUp, rTdosDn], [rZnUp, rZnDn], [rMnUp, rMnDn], [rOpUp, rOpDn]], xRange: uZoomX, yRange: uZoomY, xTicks: uZoomXTicks, yTicks: uZoomYTicks, xDecimals: 1 },
];

// geometry of each canvas on the page
const panelBoxes = [
  { left: 6, top: 67, width: 389, height: 300, yAxisW: 43, yTitleShift: -12 },
  { left: 404, top: 69, width: 390, height: 300, yAxisW: 42.7, yTitleShift: 18 },
  { left: 806, top: 67, width: 386, height: 300, yAxisW: 40.7, yTitleShift: 0 },
  { left: 23, top: 394, width: 372, height: 300, yAxisW: 26, yTitleShift: 0 },
  { left: 413, top: 389, width: 379, height: 304, yAxisW: 33.7, yTitleShift: 0 },
  { left: 814, top: 394, width: 378, height: 300, yAxisW: 32.7, yTitleShift: 0 },
];

const FONT = "'DejaVu Sans', 'Liberation Sans', sans-serif";
const X_AXIS_H = 29.5;
const TEXT_COLOR = "#2a2a2a";

const fmtTick = (v: number, dec: number) => Number(v).toFixed(dec).replace("-", "\u2212");

const decorPlugin = {
  id: "pdosDecor",
  afterDraw(chart: any, _args: any, opts: any) {
    const ctx = chart.ctx as CanvasRenderingContext2D;
    const a = chart.chartArea;
    ctx.save();
    // axes frame (all four spines)
    ctx.setLineDash([]);
    ctx.strokeStyle = "#3a3a3a";
    ctx.lineWidth = 1;
    ctx.strokeRect(Math.round(a.left) + 0.5, Math.round(a.top) + 0.5, Math.round(a.right - a.left) - 1, Math.round(a.bottom - a.top) - 1);
    // y-axis title
    const ys = chart.scales.y;
    ctx.save();
    ctx.translate(ys.left + 6, (a.top + a.bottom) / 2 + (opts.yTitleShift || 0));
    ctx.rotate(-Math.PI / 2);
    ctx.fillStyle = TEXT_COLOR;
    ctx.font = `10px ${FONT}`;
    ctx.textAlign = "center";
    ctx.textBaseline = "middle";
    ctx.fillText(opts.yTitle, 0, 0);
    ctx.restore();
    // legend box in the upper-right corner
    const entries = opts.entries || [];
    const w = 93;
    const h = 73;
    const x0 = a.right - 5 - w;
    const y0 = a.top + 4;
    const r = 2.5;
    ctx.beginPath();
    ctx.moveTo(x0 + r, y0);
    ctx.lineTo(x0 + w - r, y0);
    ctx.arcTo(x0 + w, y0, x0 + w, y0 + r, r);
    ctx.lineTo(x0 + w, y0 + h - r);
    ctx.arcTo(x0 + w, y0 + h, x0 + w - r, y0 + h, r);
    ctx.lineTo(x0 + r, y0 + h);
    ctx.arcTo(x0, y0 + h, x0, y0 + h - r, r);
    ctx.lineTo(x0, y0 + r);
    ctx.arcTo(x0, y0, x0 + r, y0, r);
    ctx.closePath();
    ctx.fillStyle = "rgba(255,255,255,0.85)";
    ctx.fill();
    ctx.strokeStyle = "#cfcfcf";
    ctx.lineWidth = 1;
    ctx.stroke();
    entries.forEach((e: any, i: number) => {
      const cy = y0 + 8.3 + i * 14.6;
      ctx.beginPath();
      ctx.setLineDash(e.dash || []);
      ctx.strokeStyle = e.color;
      ctx.lineWidth = 1.7;
      ctx.moveTo(x0 + 6, cy);
      ctx.lineTo(x0 + 27, cy);
      ctx.stroke();
      ctx.setLineDash([]);
      ctx.fillStyle = TEXT_COLOR;
      ctx.font = `10px ${FONT}`;
      ctx.textBaseline = "middle";
      ctx.textAlign = "left";
      ctx.fillText(e.label, x0 + 32, cy + 0.5);
    });
    ctx.restore();
  },
};

function PdosPanel({ def, box }: { def: PanelDef; box: (typeof panelBoxes)[number] }) {
  const ref = useRef<HTMLCanvasElement | null>(null);
  useEffect(() => {
    if (!ref.current) return;
    const [xMin, xMax] = def.xRange;
    const [yMin, yMax] = def.yRange;
    const datasets: any[] = [];
    def.series.forEach((pair, si) => {
      pair.forEach((arr) => {
        datasets.push({
          label: SERIES_LABELS[si],
          data: arr.map(([x, y]) => ({ x, y })),
          borderColor: SERIES_COLORS[si],
          borderWidth: 1.7,
          pointRadius: 0,
          pointHoverRadius: 0,
          fill: false,
          tension: 0,
          order: 6 - si,
        });
      });
    });
    datasets.push({
      label: FERMI_LABEL,
      data: [{ x: 0, y: yMin }, { x: 0, y: yMax }],
      borderColor: "#000000",
      borderWidth: 1.5,
      borderDash: [4, 2.5],
      pointRadius: 0,
      fill: false,
      order: 2,
    });
    datasets.push({
      label: "zero",
      data: [{ x: xMin, y: 0 }, { x: xMax, y: 0 }],
      borderColor: "#000000",
      borderWidth: 1.5,
      borderDash: [4, 2.5],
      pointRadius: 0,
      fill: false,
      order: 1,
    });
    const legendEntries = [
      ...SERIES_LABELS.map((label, i) => ({ label, color: SERIES_COLORS[i], dash: [] })),
      { label: FERMI_LABEL, color: "#000000", dash: [4, 2.5] },
    ];
    const tickFont = { family: FONT, size: 10 };
    const chart = new Chart(ref.current, {
      type: "line",
      data: { datasets },
      plugins: [decorPlugin],
      options: {
        animation: false,
        responsive: false,
        events: [],
        layout: { padding: { left: 0, right: 3, top: 0, bottom: 0 } },
        plugins: {
          legend: { display: false },
          tooltip: { enabled: false },
          title: {
            display: true,
            text: PLOT_TITLE,
            fullSize: false,
            color: TEXT_COLOR,
            font: { family: FONT, size: 11.3, weight: "normal", lineHeight: 1.2 },
            padding: { top: 0, bottom: 2 },
          },
          pdosDecor: { entries: legendEntries, yTitle: Y_LABEL, yTitleShift: box.yTitleShift },
        } as any,
        scales: {
          x: {
            type: "linear",
            min: xMin,
            max: xMax,
            afterBuildTicks: (scale: any) => {
              scale.ticks = def.xTicks.map((v) => ({ value: v }));
            },
            afterFit: (scale: any) => {
              scale.height = X_AXIS_H;
              scale.paddingLeft = 0;
              scale.paddingRight = 0;
            },
            ticks: {
              autoSkip: false,
              maxRotation: 0,
              padding: 3,
              color: TEXT_COLOR,
              font: tickFont,
              callback: (v: any) => fmtTick(v, def.xDecimals),
            },
            grid: { display: true, drawOnChartArea: false, drawTicks: true, tickLength: 4, color: "#3a3a3a" },
            border: { display: false },
            title: { display: true, text: X_LABEL, color: TEXT_COLOR, font: { family: FONT, size: 10, lineHeight: 1.2 }, padding: 0 },
          },
          y: {
            type: "linear",
            min: yMin,
            max: yMax,
            afterBuildTicks: (scale: any) => {
              scale.ticks = def.yTicks.map((v) => ({ value: v }));
            },
            afterFit: (scale: any) => {
              scale.width = box.yAxisW;
              scale.paddingTop = 0;
              scale.paddingBottom = 0;
            },
            ticks: {
              autoSkip: false,
              padding: 4,
              color: TEXT_COLOR,
              font: tickFont,
              callback: (v: any) => fmtTick(v, 0),
            },
            grid: { display: true, drawOnChartArea: false, drawTicks: true, tickLength: 4, color: "#3a3a3a" },
            border: { display: false },
            title: { display: false },
          },
        },
      } as any,
    });
    return () => chart.destroy();
  }, [def, box]);
  return (
    <canvas
      ref={ref}
      width={box.width}
      height={box.height}
      style={{ position: "absolute", left: box.left, top: box.top, width: box.width, height: box.height }}
    />
  );
}

const headerStyle: React.CSSProperties = {
  position: "absolute",
  fontFamily: "Lato, 'Noto Sans', sans-serif",
  fontSize: 21,
  lineHeight: "22px",
  color: "#111",
  whiteSpace: "nowrap",
  textDecoration: "underline",
  textDecorationThickness: "1.5px",
  textUnderlineOffset: "4px",
};
const subStyle: React.CSSProperties = { fontSize: 13, verticalAlign: "-3px", lineHeight: "10px" };

export default function App() {
  return (
    <div style={{ position: "absolute", left: 0, top: 0, width: 1203, height: 700, background: "#fff", overflow: "hidden" }}>
      <div style={{ ...headerStyle, left: 14, top: 2 }}>Mn-doped ZnO</div>
      <div style={{ ...headerStyle, left: 24, top: 41 }}>PBE0</div>
      <div style={{ ...headerStyle, left: 443, top: 35 }}>optPBE</div>
      <div style={{ ...headerStyle, left: 843, top: 28, textUnderlineOffset: "6px" }}>
        optPBE + U (U<span style={subStyle}>Zn,d</span> = 4, U<span style={subStyle}>Mn,d</span> = 2)
      </div>
      {panels.map((p, i) => (
        <PdosPanel key={p.key} def={p} box={panelBoxes[i]} />
      ))}
    </div>
  );
}
